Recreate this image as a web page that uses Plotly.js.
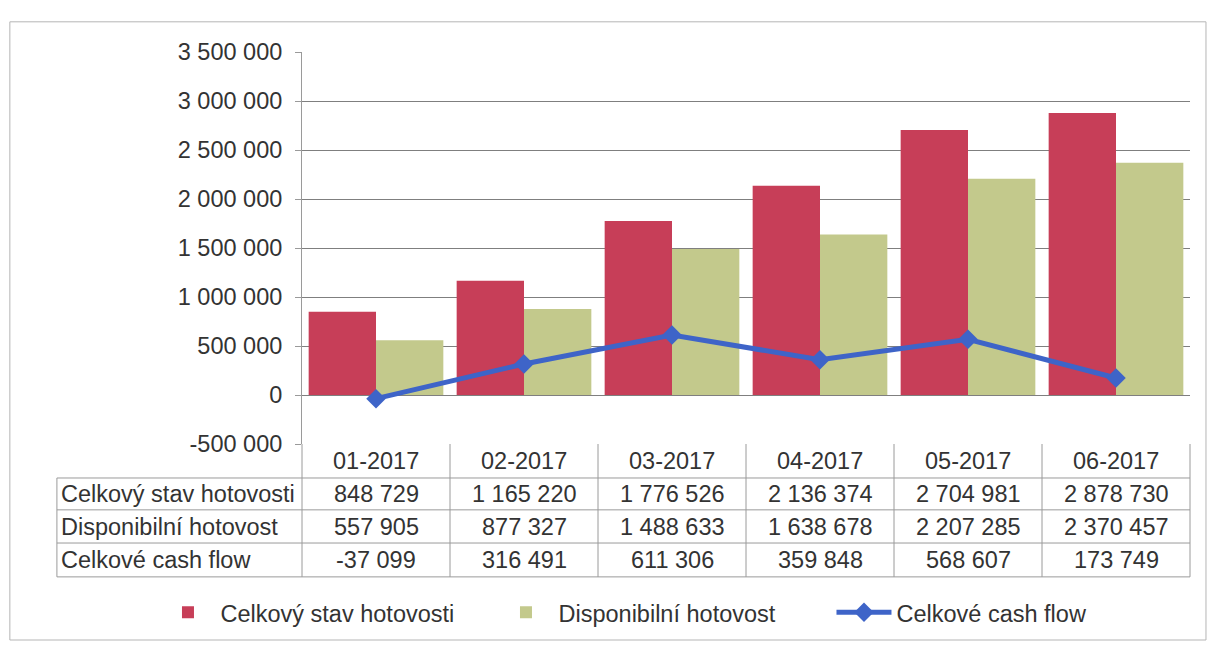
<!DOCTYPE html>
<html>
<head>
<meta charset="utf-8">
<script src="https://cdn.plot.ly/plotly-3.0.1.min.js"></script>
<style>html,body{margin:0;padding:0;background:#fff;}#chart{width:1212px;height:649px;}</style>
</head>
<body>
<div id="chart"></div>
<script>
const categories = ["01-2017", "02-2017", "03-2017", "04-2017", "05-2017", "06-2017"];
const seriesNames = ["Celkový stav hotovosti", "Disponibilní hotovost", "Celkové cash flow"];
const celkovyStav = [848729, 1165220, 1776526, 2136374, 2704981, 2878730];
const disponibilni = [557905, 877327, 1488633, 1638678, 2207285, 2370457];
const cashFlow = [-37099, 316491, 611306, 359848, 568607, 173749];
const yTickVals = [-500000, 0, 500000, 1000000, 1500000, 2000000, 2500000, 3000000, 3500000];

const fmt = v => { const s = Math.abs(v).toString().replace(/\B(?=(\d{3})+(?!\d))/g, " "); return (v < 0 ? "-" : "") + s; };

const textColor = "#333333";
const lineColor = "#9a9a9a";
const fontFam = "Liberation Sans, Arial, sans-serif";
const fs = 23.5;

const traces = [
  {type: "bar", name: seriesNames[0], x: categories, y: celkovyStav, marker: {color: "#C73E58"}},
  {type: "bar", name: seriesNames[1], x: categories, y: disponibilni, marker: {color: "#C3C98C"}},
  {type: "scatter", mode: "lines+markers", name: seriesNames[2], x: categories, y: cashFlow,
   line: {color: "#3E64C8", width: 5}, marker: {symbol: "diamond", size: 15, color: "#3E64C8"}}
];

// Table geometry (paper coords)
const rowLines = [-0.0867, -0.168, -0.2526, -0.339];
const rowCenters = [-0.0434, -0.1276, -0.2117, -0.296];
const leftX = -0.276;
const shapes = [];
rowLines.forEach(yy => {
  shapes.push({type: "line", xref: "paper", yref: "paper", x0: leftX, x1: 1, y0: yy, y1: yy, line: {color: lineColor, width: 1}});
});
for (let i = 0; i <= categories.length; i++) {
  const xp = i / categories.length;
  shapes.push({type: "line", xref: "paper", yref: "paper", x0: xp, x1: xp, y0: 0, y1: rowLines[3], line: {color: lineColor, width: 1}});
}
shapes.push({type: "line", xref: "paper", yref: "paper", x0: leftX, x1: leftX, y0: rowLines[0], y1: rowLines[3], line: {color: lineColor, width: 1}});
// outer frame
shapes.push({type: "rect", xref: "paper", yref: "paper", x0: -0.329, x1: 1.018, y0: -0.5, y1: 1.077, line: {color: "#b5b5b5", width: 1}});

const annotations = [];
const rows = [celkovyStav, disponibilni, cashFlow];
categories.forEach((c, i) => {
  annotations.push({xref: "x", yref: "paper", x: c, y: rowCenters[0], text: c, showarrow: false, xanchor: "center", yanchor: "middle", font: {size: fs, color: textColor, family: fontFam}});
  rows.forEach((r, j) => {
    annotations.push({xref: "x", yref: "paper", x: c, y: rowCenters[j + 1], text: fmt(r[i]), showarrow: false, xanchor: "center", yanchor: "middle", font: {size: fs, color: textColor, family: fontFam}});
  });
});
seriesNames.forEach((n, j) => {
  annotations.push({xref: "paper", yref: "paper", x: leftX + 0.002, y: rowCenters[j + 1], text: n, showarrow: false, xanchor: "left", yanchor: "middle", font: {size: fs, color: textColor, family: fontFam}});
});

const layout = {
  width: 1212, height: 649,
  margin: {l: 302, r: 22, t: 52, b: 205},
  paper_bgcolor: "#ffffff", plot_bgcolor: "#ffffff",
  barmode: "group", bargap: 0.09, bargroupgap: 0,
  font: {family: fontFam, color: textColor, size: fs},
  xaxis: {type: "category", showticklabels: false, showgrid: false, zeroline: false, showline: false, ticks: ""},
  yaxis: {range: [-500000, 3500000], tickmode: "array", tickvals: yTickVals, ticktext: yTickVals.map(fmt),
          showgrid: true, gridcolor: "#7f7f7f", gridwidth: 1,
          zeroline: false, showline: true, linecolor: lineColor, ticks: "outside", ticklen: 6, tickcolor: lineColor,
          ticklabelstandoff: 8, tickfont: {size: fs, color: textColor}},
  showlegend: true,
  legend: {orientation: "h", x: -0.165, xanchor: "left", y: -0.43, yanchor: "middle", font: {size: fs, color: textColor},
           traceorder: "normal", itemwidth: 55, entrywidth: 268},
  shapes: shapes,
  annotations: annotations
};

Plotly.newPlot("chart", traces, layout, {displayModeBar: false, staticPlot: true});
</script>
</body>
</html>
